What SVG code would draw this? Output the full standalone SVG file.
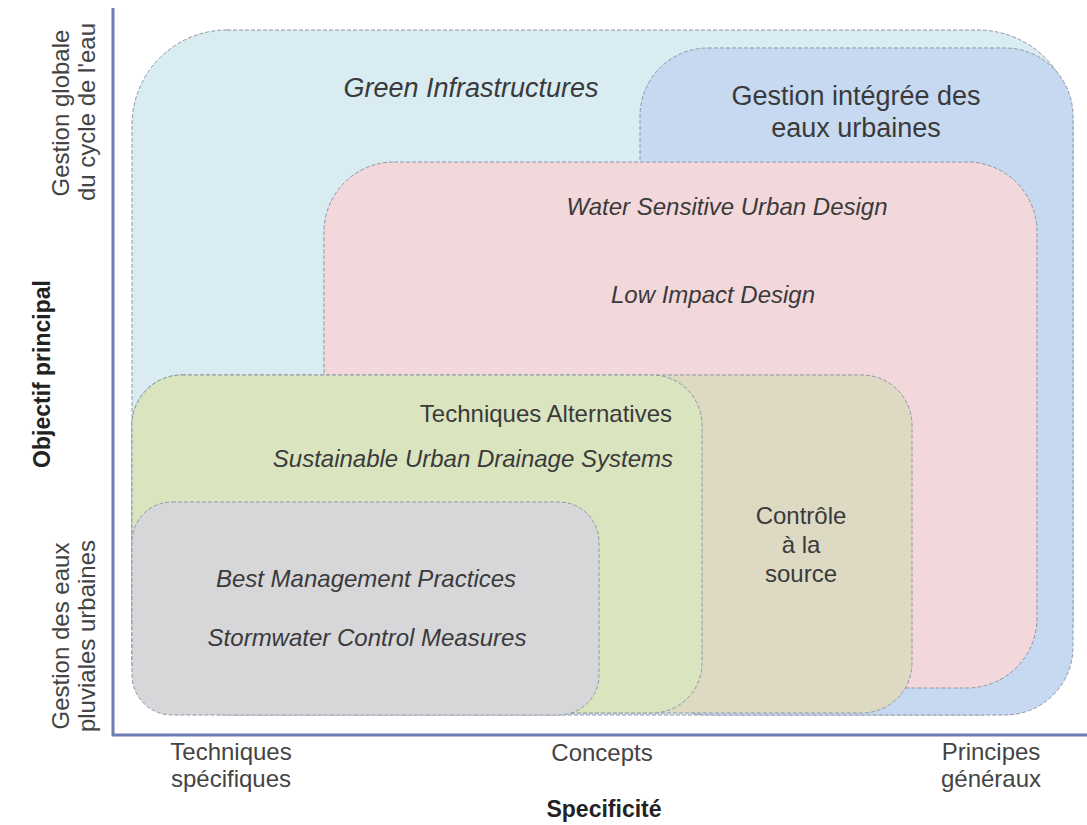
<svg xmlns="http://www.w3.org/2000/svg" width="1087" height="825" viewBox="0 0 1087 825">
<style>
.box{stroke:#8d97a6;stroke-width:1;stroke-dasharray:4 2}
text{font-family:"Liberation Sans",Arial,sans-serif;fill:#3a3a3a}
.it{font-style:italic}
.lab{font-size:24px;text-anchor:middle;fill:#444}
.bold{font-weight:bold;font-size:23px;text-anchor:middle;fill:#222}
</style>
<rect width="1087" height="825" fill="#ffffff"/>
<g id="green-infrastructures">
<rect class="box" x="132" y="30" width="941" height="685" rx="95" ry="95" fill="#d8ecf1"/>
<text class="it" x="471" y="97" font-size="27" text-anchor="middle" fill="#2f3a44">Green Infrastructures</text>
</g>
<g id="gestion-integree">
<rect class="box" x="640" y="48" width="433" height="667" rx="68" ry="68" fill="#c7d9f0"/>
<text x="856" y="105" font-size="27" text-anchor="middle" fill="#1f2c40">Gestion intégrée des</text>
<text x="856" y="137" font-size="27" text-anchor="middle" fill="#1f2c40">eaux urbaines</text>
</g>
<g id="wsud">
<rect class="box" x="324" y="162" width="713" height="526" rx="70" ry="70" fill="#f2d8db"/>
<text class="it" x="727" y="215" font-size="24" text-anchor="middle" fill="#3a3232">Water Sensitive Urban Design</text>
<text class="it" x="713" y="303" font-size="24" text-anchor="middle" fill="#3a3232">Low Impact Design</text>
</g>
<g id="controle-source">
<rect class="box" x="132" y="375" width="780" height="338" rx="50" ry="50" fill="#ddd9c3"/>
<text x="801" y="524" font-size="24" text-anchor="middle" fill="#3a3a30">Contrôle</text>
<text x="801" y="553" font-size="24" text-anchor="middle" fill="#3a3a30">à la</text>
<text x="801" y="582" font-size="24" text-anchor="middle" fill="#3a3a30">source</text>
</g>
<g id="techniques-alternatives">
<rect class="box" x="132" y="375" width="570" height="338" rx="50" ry="50" fill="#dae5c0"/>
<text x="672" y="422" font-size="24" text-anchor="end" fill="#333">Techniques Alternatives</text>
<text class="it" x="673" y="467" font-size="24" text-anchor="end" fill="#3b4a2e">Sustainable Urban Drainage Systems</text>
</g>
<g id="bmp">
<rect class="box" x="132" y="502" width="467" height="213" rx="40" ry="40" fill="#d7d7d9"/>
<text class="it" x="366" y="587" font-size="24" text-anchor="middle" fill="#333">Best Management Practices</text>
<text class="it" x="367" y="646" font-size="24" text-anchor="middle" fill="#333">Stormwater Control Measures</text>
</g>
<g id="axes">
<line x1="113" y1="8" x2="113" y2="736" stroke="#6e7db6" stroke-width="3"/>
<line x1="112" y1="735" x2="1087" y2="735" stroke="#6e7db6" stroke-width="3"/>
</g>
<g id="x-labels">
<text class="lab" x="231" y="760">Techniques</text>
<text class="lab" x="231" y="787">spécifiques</text>
<text class="lab" x="602" y="761">Concepts</text>
<text class="lab" x="991" y="760">Principes</text>
<text class="lab" x="991" y="787">généraux</text>
<text class="bold" x="604" y="817">Specificité</text>
</g>
<g id="y-labels">
<text class="lab" transform="translate(69,113) rotate(-90)">Gestion globale</text>
<text class="lab" transform="translate(95,112) rotate(-90)">du cycle de l'eau</text>
<text class="bold" transform="translate(50,374) rotate(-90)">Objectif principal</text>
<text class="lab" transform="translate(69,636) rotate(-90)">Gestion des eaux</text>
<text class="lab" transform="translate(95,636) rotate(-90)">pluviales urbaines</text>
</g>
</svg>
